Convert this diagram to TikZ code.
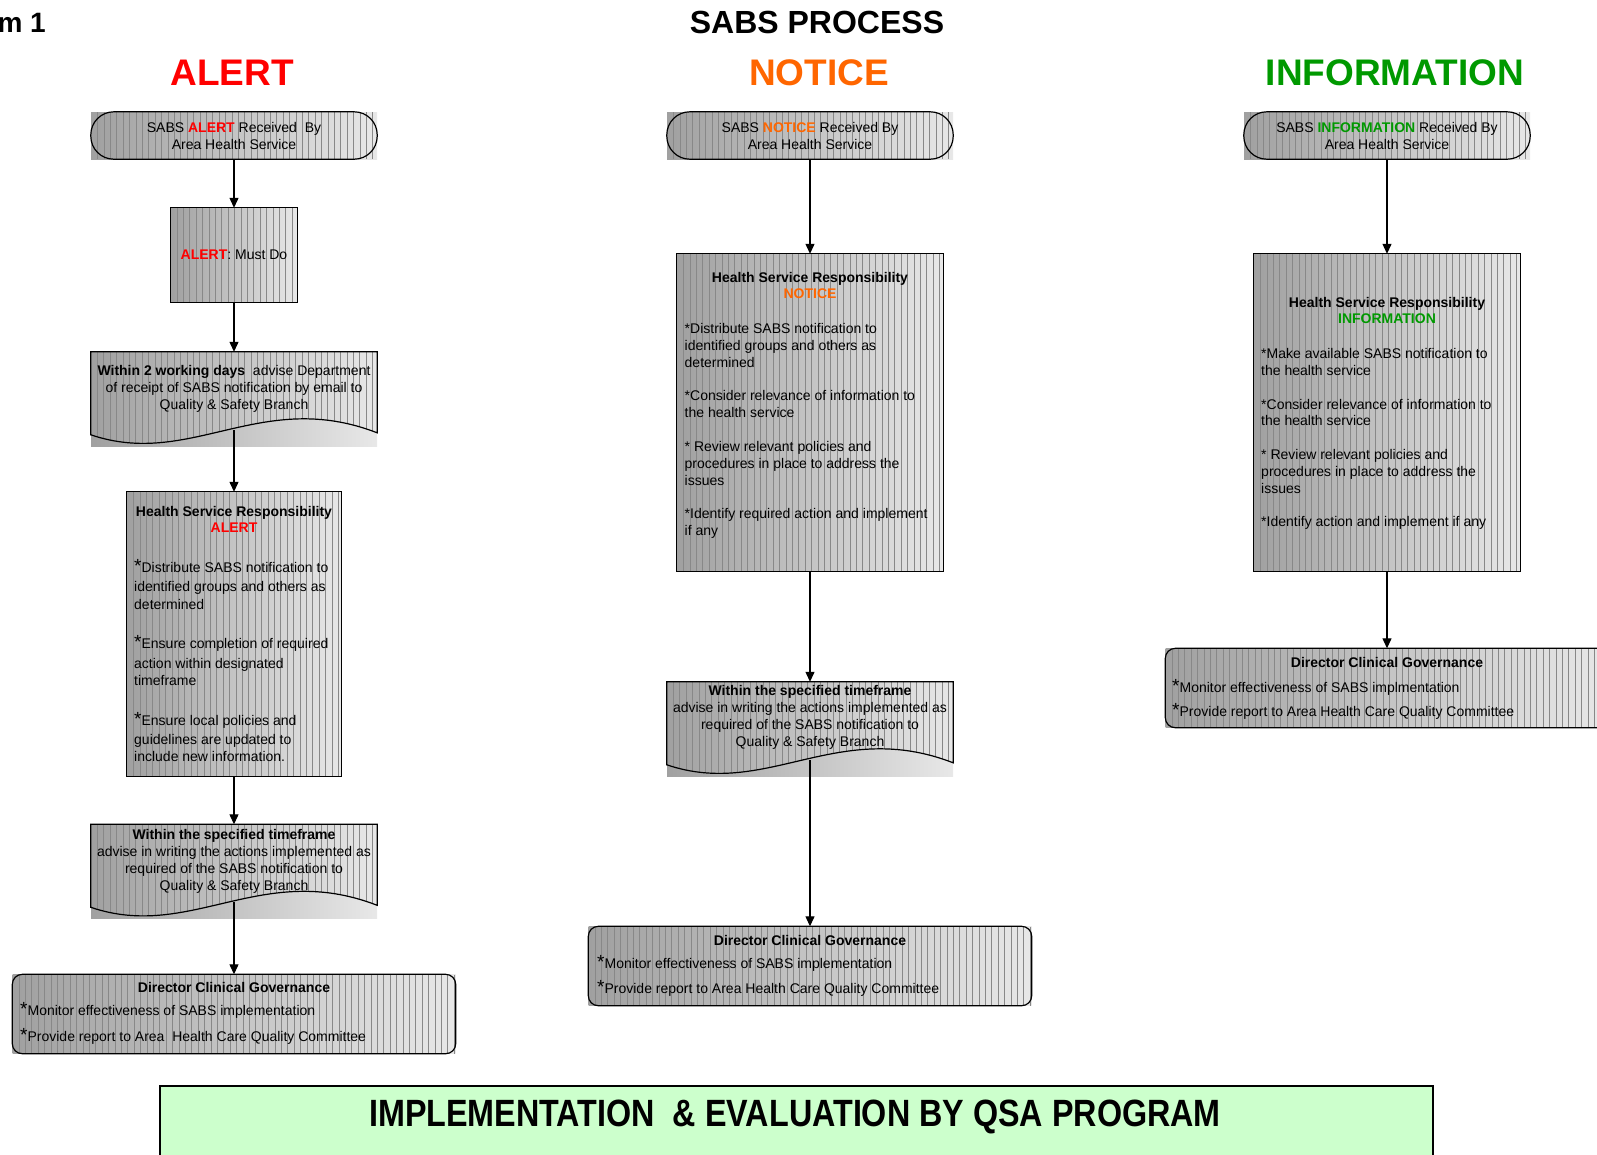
\documentclass[tikz,border=0pt]{standalone}
\usepackage{fontspec}
\setmainfont{Liberation Sans}
\usepackage{graphicx}
\usetikzlibrary{arrows.meta,calc}

\definecolor{alertred}{HTML}{FF0000}
\definecolor{noticeorange}{HTML}{FF6600}
\definecolor{infogreen}{HTML}{009900}
\definecolor{shadeleft}{HTML}{A0A0A0}
\definecolor{shaderight}{HTML}{E8E8E8}
\definecolor{stripecol}{HTML}{888888}
\definecolor{qsagreen}{HTML}{CCFFCC}

% raised, larger bullet star that does not change the line height
\newcommand\bstar{\smash{\fontsize{19}{19}\selectfont *}}
\newcommand\alertw{\textcolor{alertred}{\textbf{ALERT}}}
\newcommand\noticew{\textcolor{noticeorange}{\textbf{NOTICE}}}
\newcommand\infow{\textcolor{infogreen}{\textbf{INFORMATION}}}

% document shape: straight top, wavy bottom (box 286 x 94)
\newcommand\docpath[1]{(#1.north west) -- (#1.north east) -- ([shift={(0,81)}]#1.north east)
  .. controls ([shift={(-116,36)}]#1.north east) and ([shift={(100,117)}]#1.north west)
  .. ([shift={(0,83)}]#1.north west) -- cycle}

\tikzset{
  txt/.style={font=\fontsize{14}{17}\selectfont, inner sep=0pt},
  shadedbg/.style={shape=rectangle, draw=none, inner sep=0pt,
    left color=shadeleft, right color=shaderight},
  % thin vertical lines over the shading, clipped to the path
  striped/.style={path picture={
    \foreach \k in {1,...,70}
      \draw[stripecol, line width=0.5pt]
        ([xshift=\k*6.4pt]path picture bounding box.south west) --
        ([xshift=\k*6.4pt]path picture bounding box.north west);}},
  termbox/.style={shadedbg, striped, minimum width=286pt, minimum height=47pt},
  docbox/.style={shadedbg, minimum width=286pt, minimum height=94pt},
  govbox/.style={shadedbg, striped, minimum width=443pt, minimum height=79pt},
  outline/.style={draw=black, line width=1.2pt},
  flow/.style={-{Triangle[length=10pt,width=9pt]}, line width=1.2pt},
  heading/.style={font=\fontsize{32}{32}\selectfont\bfseries, inner sep=0pt},
  coltitle/.style={font=\fontsize{37}{37}\selectfont\bfseries, inner sep=0pt},
}

\begin{document}
\begin{tikzpicture}[x=1pt,y=-1pt]
\useasboundingbox (0,0) rectangle (1597,1154);

% ---------- headings ----------
\node[font=\fontsize{28}{28}\selectfont\bfseries, inner sep=0pt, anchor=east] (formno) at (46,23) {m 1};
\node[heading] (process) at (817,22) {SABS PROCESS};
\node[coltitle, text=alertred] (alerthead) at (232,73) {ALERT};
\node[coltitle, text=noticeorange] (noticehead) at (819,73) {NOTICE};
\node[coltitle, text=infogreen] (infohead) at (1395,73) {INFORMATION};

% ---------- box backgrounds ----------
% alert column
\node[termbox, txt, align=center] (t1) at (234,135.5) {SABS \alertw\ Received\ \ By\\Area Health Service};
\node[shadedbg, striped, txt, minimum width=127pt, minimum height=94pt] (m1) at (234,255) {\alertw: Must Do};
\node[docbox] (d1) at (234,399) {};
\node[shadedbg, striped, minimum width=214pt, minimum height=284pt] (h1) at (234,634) {};
\node[docbox] (e1) at (234,871.5) {};
\node[govbox] (r1) at (234,1014) {};

% notice column
\node[termbox, txt, align=center] (t2) at (810,135.5) {SABS \noticew\ Received By\\Area Health Service};
\node[shadedbg, striped, minimum width=266pt, minimum height=317pt] (h2) at (810,412.5) {};
\node[docbox] (e2) at (810,729) {};
\node[govbox] (r2) at (810,966) {};

% information column
\node[termbox, txt, align=center] (t3) at (1387,135.5) {SABS \infow\ Received By\\Area Health Service};
\node[shadedbg, striped, minimum width=266pt, minimum height=317pt] (h3) at (1387,412.5) {};
\node[govbox] (r3) at (1387,688) {};

% striped part and outline of the document shapes
\foreach \d in {d1,e1,e2}{
  \path[striped] \docpath{\d};
  \draw[outline] \docpath{\d};
}

% ---------- outlines ----------
\foreach \t in {t1,t2,t3}
  \draw[outline, rounded corners=23pt] (\t.south west) rectangle (\t.north east);
\foreach \b in {m1,h1,h2,h3}
  \draw[outline] (\b.south west) rectangle (\b.north east);
\foreach \r in {r1,r2,r3}
  \draw[outline, rounded corners=10pt] (\r.south west) rectangle (\r.north east);

% ---------- connectors ----------
\coordinate (d1w) at ([shift={(0,78)}]d1.north);
\coordinate (e1w) at ([shift={(0,78)}]e1.north);
\coordinate (e2w) at ([shift={(0,78)}]e2.north);

\draw[flow] (t1.south) -- (m1.north);
\draw[flow] (m1.south) -- (d1.north);
\draw[flow] (d1w) -- (h1.north);
\draw[flow] (h1.south) -- (e1.north);
\draw[flow] (e1w) -- (r1.north);

\draw[flow] (t2.south) -- (h2.north);
\draw[flow] (h2.south) -- (e2.north);
\draw[flow] (e2w) -- (r2.north);

\draw[flow] (t3.south) -- (h3.north);
\draw[flow] (h3.south) -- (r3.north);

% ---------- texts ----------
\node[txt, align=center] (d1txt) at (234,389)
  {\textbf{Within 2 working days}\ \ advise Department\\of receipt of SABS notification by email to\\Quality \& Safety Branch};

\node[txt, align=center, font=\fontsize{14}{16.6}\selectfont] (h1title) at (234,519.5)
  {\textbf{Health Service Responsibility}\\\alertw};
\node[txt, align=left, anchor=north west, font=\fontsize{14}{17.3}\selectfont] (h1body) at (134,562)
  {\bstar Distribute SABS notification to\\[2.1pt]identified groups and others as\\determined\\[22.4pt]
   \bstar Ensure completion of required\\[2.1pt]action within designated\\timeframe\\[22.4pt]
   \bstar Ensure local policies and\\[2.1pt]guidelines are updated to\\include new information.};

\node[txt, align=center] (e1txt) at (234,861)
  {\textbf{Within the specified timeframe}\\advise in writing the actions implemented as\\required of the SABS notification to\\Quality \& Safety Branch};

\node[txt, font=\fontsize{14}{17}\selectfont\bfseries] (r1title) at (234,987) {Director Clinical Governance};
\node[txt, align=left, anchor=north west] (r1body) at (20,1005.4)
  {\bstar Monitor effectiveness of SABS implementation\\[8.4pt]
   \bstar Provide report to Area\ \ Health Care Quality Committee};

% notice column texts
\node[txt, align=center, font=\fontsize{14}{16.3}\selectfont] (h2title) at (810,285.2)
  {\textbf{Health Service Responsibility}\\\noticew};
\node[txt, align=left, anchor=north west, font=\fontsize{14}{16.9}\selectfont] (h2body) at (684.5,323)
  {*Distribute SABS notification to\\identified groups and others as\\determined\\[16.8pt]
   *Consider relevance of information to\\the health service\\[16.8pt]
   * Review relevant policies and\\procedures in place to address the\\issues\\[16.8pt]
   *Identify required action and implement\\if any};

\node[txt, align=center, font=\fontsize{14}{16.8}\selectfont] (e2txt) at (810,717.5)
  {\textbf{Within the specified timeframe}\\advise in writing the actions implemented as\\required of the SABS notification to\\Quality \& Safety Branch};

\node[txt, font=\fontsize{14}{17}\selectfont\bfseries] (r2title) at (810,940) {Director Clinical Governance};
\node[txt, align=left, anchor=north west] (r2body) at (597,958)
  {\bstar Monitor effectiveness of SABS implementation\\[8.4pt]
   \bstar Provide report to Area Health Care Quality Committee};

% information column texts
\node[txt, align=center, font=\fontsize{14}{16.3}\selectfont] (h3title) at (1387,310.6)
  {\textbf{Health Service Responsibility}\\\infow};
\node[txt, align=left, anchor=north west, font=\fontsize{14}{16.8}\selectfont] (h3body) at (1261,348.4)
  {*Make available SABS notification to\\the health service\\[16.8pt]
   *Consider relevance of information to\\the health service\\[16.8pt]
   * Review relevant policies and\\procedures in place to address the\\issues\\[16.8pt]
   *Identify action and implement if any};

\node[txt, font=\fontsize{14}{17}\selectfont\bfseries] (r3title) at (1387,662) {Director Clinical Governance};
\node[txt, align=left, anchor=north west] (r3body) at (1172,682)
  {\bstar Monitor effectiveness of SABS implmentation\\[7.5pt]
   \bstar Provide report to Area Health Care Quality Committee};

% ---------- program banner ----------
\node[draw=black, line width=1.5pt, fill=qsagreen, inner sep=0pt, anchor=north west,
      minimum width=1273pt, minimum height=110pt] (qsa) at (159,1085) {};
\node[inner sep=0pt, font=\fontsize{38}{38}\selectfont\bfseries] (qsatext) at (795,1117)
  {\scalebox{0.85}[1]{IMPLEMENTATION\ \ \& EVALUATION BY QSA PROGRAM}};

\end{tikzpicture}
\end{document}
